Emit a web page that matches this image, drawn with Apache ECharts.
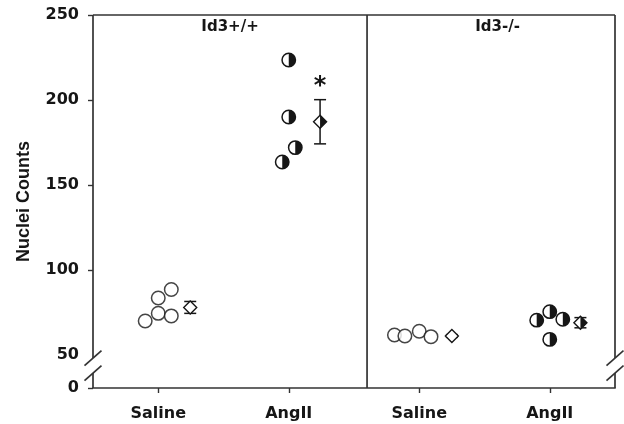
<!DOCTYPE html>
<html>
<head>
<meta charset="utf-8">
<script src="https://cdn.jsdelivr.net/npm/echarts@6/dist/echarts.min.js"></script>
<style>html,body{margin:0;padding:0;background:#fff}#c{width:624px;height:424px}</style>
</head>
<body>
<div id="c"></div>
<script>
// ---- data ----
const categories = ['Saline', 'AngII', 'Saline', 'AngII'];
const panelTitles = ['Id3+/+', 'Id3-/-'];
const panelTitleX = [0.55, 2.6];
const yTickValues = [50, 100, 150, 200, 250];
const yTickLabels = ['0', '50', '100', '150', '200', '250'];
// individual animals (x = category index + jitter, y = nuclei count)
const wtSalineX = [-0.10, 0.00, 0.10, 0.00, 0.10];
const wtSalineY = [70, 74.5, 73, 83.5, 88.5];
const wtAngX = [1.00, 1.00, 1.05, 0.95];
const wtAngY = [223.5, 190, 172, 163.5];
const koSalineX = [1.81, 1.89, 2.00, 2.09];
const koSalineY = [61.8, 61.2, 64, 60.8];
const koAngX = [2.90, 3.00, 3.10, 3.00];
const koAngY = [70.5, 75.5, 71, 59.2];
// group means +/- SEM
const meanX = [0.245, 1.24, 2.25, 3.235];
const meanY = [78, 187.2, 61.2, 69];
const semY = [3.5, 13, 0.8, 3];
const meanFilled = [0, 1, 0, 1];
const sigMark = ['', '*', '', ''];

// ---- axis layout ----
const X_MIN = -0.5, X_MAX = 3.5, DIVIDER = 1.6;
const Y_ZERO = 30.6, Y_MAX = 250;        // position where "0" sits (below the break)
const BREAK_HI = 48.2, BREAK_LO = 39.4;  // axis break slashes

const INK = '#161616';
const LINE = '#333333';
const FONT = "'DejaVu Sans', sans-serif";

const zip = (xs, ys) => xs.map((x, i) => [x, ys[i]]);

function renderHalf(params, api) {
  const c = api.coord([api.value(0), api.value(1)]);
  const r = 6.7;
  return {
    type: 'group',
    children: [
      { type: 'circle', shape: { cx: c[0], cy: c[1], r: r }, style: { fill: '#fff', stroke: INK, lineWidth: 1.5 } },
      { type: 'sector', shape: { cx: c[0], cy: c[1], r0: 0, r: r, startAngle: -Math.PI / 2, endAngle: Math.PI / 2, clockwise: true }, style: { fill: INK } }
    ]
  };
}

function renderMean(params, api) {
  const i = params.dataIndex;
  const x = api.value(0), m = api.value(1), s = api.value(2), filled = api.value(3);
  const c = api.coord([x, m]);
  const t = api.coord([x, m + s]);
  const b = api.coord([x, m - s]);
  const cap = 6, w = 6.5, h = 6.5;
  const children = [
    { type: 'line', shape: { x1: c[0], y1: t[1], x2: c[0], y2: b[1] }, style: { stroke: INK, lineWidth: 1.5 } },
    { type: 'line', shape: { x1: c[0] - cap, y1: t[1], x2: c[0] + cap, y2: t[1] }, style: { stroke: INK, lineWidth: 1.5 } },
    { type: 'line', shape: { x1: c[0] - cap, y1: b[1], x2: c[0] + cap, y2: b[1] }, style: { stroke: INK, lineWidth: 1.5 } },
    { type: 'polygon', shape: { points: [[c[0], c[1] - h], [c[0] + w, c[1]], [c[0], c[1] + h], [c[0] - w, c[1]]] }, style: { fill: '#fff', stroke: INK, lineWidth: 1.4 } }
  ];
  if (filled) {
    children.push({ type: 'polygon', shape: { points: [[c[0], c[1] - h], [c[0] + w, c[1]], [c[0], c[1] + h]] }, style: { fill: INK } });
  }
  if (sigMark[i]) {
    children.push({ type: 'text', x: c[0], y: t[1] - 1, style: { text: sigMark[i], fill: INK, font: 'bold 24px ' + FONT, align: 'center', verticalAlign: 'bottom' } });
  }
  return { type: 'group', children: children };
}

function renderFrame(params, api) {
  const L = api.coord([X_MIN, Y_MAX]);
  const R = api.coord([X_MAX, Y_MAX]);
  const hi = api.coord([X_MIN, BREAK_HI])[1];
  const lo = api.coord([X_MIN, BREAK_LO])[1];
  const z = api.coord([X_MIN, Y_ZERO])[1];
  const d = api.coord([DIVIDER, Y_MAX])[0];
  const st = { stroke: LINE, lineWidth: 1.7 };
  const seg = (x1, y1, x2, y2) => ({ type: 'line', shape: { x1, y1, x2, y2 }, style: st });
  const slash = (x, y) => seg(x - 8.5, y + 7.5, x + 8.5, y - 7.5);
  const children = [
    seg(L[0], L[1], R[0], R[1]),             // top
    seg(L[0], L[1], L[0], hi), seg(L[0], lo, L[0], z),   // left axis w/ break
    seg(R[0], R[1], R[0], hi), seg(R[0], lo, R[0], z),   // right frame w/ break
    seg(d, L[1], d, z),                       // panel divider
    slash(L[0], hi), slash(L[0], lo), slash(R[0], hi), slash(R[0], lo)
  ];
  panelTitles.forEach((txt, k) => {
    const p = api.coord([panelTitleX[k], Y_MAX]);
    children.push({ type: 'text', x: p[0], y: p[1] + 12, style: { text: txt, fill: INK, font: 'bold 15px ' + FONT, align: 'center', verticalAlign: 'middle' } });
  });
  return { type: 'group', children: children };
}

const chart = echarts.init(document.getElementById('c'), null, { renderer: 'canvas' });
chart.setOption({
  animation: false,
  backgroundColor: '#fff',
  grid: { left: 93, right: 9, top: 15, bottom: 36, containLabel: false },
  xAxis: {
    type: 'value', min: X_MIN, max: X_MAX,
    axisLine: { show: true, onZero: false, lineStyle: { color: LINE, width: 1.7 } },
    axisTick: { show: true, length: 5, customValues: [0, 1, 2, 3], lineStyle: { color: LINE, width: 1.4 } },
    axisLabel: {
      customValues: [0, 1, 2, 3], margin: 18,
      formatter: v => categories[Math.round(v)],
      color: INK, fontFamily: FONT, fontWeight: 'bold', fontSize: 16
    },
    splitLine: { show: false }
  },
  yAxis: {
    type: 'value', min: Y_ZERO, max: Y_MAX,
    name: 'Nuclei Counts', nameLocation: 'middle', nameGap: 60, nameRotate: 90,
    nameTextStyle: { color: INK, fontFamily: "'Liberation Sans', Arial, sans-serif", fontWeight: 'bold', fontSize: 18 },
    axisLine: { show: false, onZero: false },
    axisTick: { show: true, length: 5, customValues: [Y_ZERO].concat(yTickValues.slice(1)), lineStyle: { color: LINE, width: 1.4 } },
    axisLabel: {
      customValues: [Y_ZERO].concat(yTickValues), margin: 14,
      formatter: v => {
        const all = [Y_ZERO].concat(yTickValues);
        const k = all.findIndex(a => Math.abs(a - v) < 1e-6);
        return k >= 0 ? yTickLabels[k] : '';
      },
      color: INK, fontFamily: FONT, fontWeight: 'bold', fontSize: 16
    },
    splitLine: { show: false }
  },
  series: [
    { type: 'custom', name: 'frame', renderItem: renderFrame, data: [[0, 0]], clip: false, silent: true, z: 1 },
    { type: 'scatter', name: 'Id3+/+ Saline', data: zip(wtSalineX, wtSalineY), symbol: 'circle', symbolSize: 13.5,
      itemStyle: { color: '#fff', borderColor: INK, borderWidth: 1.5 }, z: 3 },
    { type: 'custom', name: 'Id3+/+ AngII', renderItem: renderHalf, data: zip(wtAngX, wtAngY), z: 3 },
    { type: 'scatter', name: 'Id3-/- Saline', data: zip(koSalineX, koSalineY), symbol: 'circle', symbolSize: 13.5,
      itemStyle: { color: '#fff', borderColor: INK, borderWidth: 1.5 }, z: 3 },
    { type: 'custom', name: 'Id3-/- AngII', renderItem: renderHalf, data: zip(koAngX, koAngY), z: 3 },
    { type: 'custom', name: 'mean', renderItem: renderMean, clip: false,
      data: meanX.map((x, i) => [x, meanY[i], semY[i], meanFilled[i]]), z: 4 }
  ]
});
</script>
</body>
</html>
